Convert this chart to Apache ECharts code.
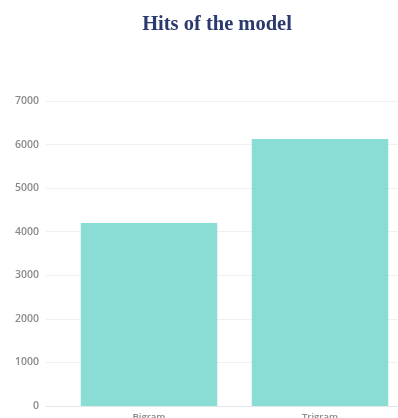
<!DOCTYPE html>
<html>
<head>
<meta charset="utf-8">
<script src="https://cdn.jsdelivr.net/npm/echarts@6/dist/echarts.min.js"></script>
<style>
html,body{margin:0;padding:0;background:#fff;}
#chart{width:398px;height:418px;}
</style>
</head>
<body>
<div id="chart"></div>
<script>
const categories = ['Bigram', 'Trigram'];
const hits = [4200, 6130];
const yTicks = [0, 1000, 2000, 3000, 4000, 5000, 6000, 7000];

const chart = echarts.init(document.getElementById('chart'));
const yMin = yTicks[0], yMax = yTicks[yTicks.length - 1], yStep = yTicks[1] - yTicks[0];
chart.setOption({
  animation: false,
  backgroundColor: '#ffffff',
  title: {
    text: 'Hits of the model',
    left: 212,
    top: 9,
    textAlign: 'center',
    textStyle: {
      fontFamily: 'Liberation Serif',
      fontWeight: 'bold',
      fontSize: 20.5,
      color: '#2a3a6e'
    }
  },
  grid: [
    { left: 46, right: 0, top: 101, height: 305, outerBoundsMode: 'none' },
    { left: 63.5, right: -7.5, top: 101, height: 305, outerBoundsMode: 'none' }
  ],
  xAxis: [
    {
      gridIndex: 0, type: 'value', min: 0, max: 1,
      axisLine: { show: true, lineStyle: { color: '#e3e6ea', width: 1 } },
      axisTick: { show: false }, axisLabel: { show: false }, splitLine: { show: false }
    },
    {
      gridIndex: 1, type: 'category', data: categories,
      axisLine: { show: false }, axisTick: { show: false },
      axisLabel: { margin: 6, fontFamily: 'Open Sans', fontSize: 9.5, fontWeight: 600, color: '#8a8a8a' }
    }
  ],
  yAxis: [
    {
      gridIndex: 0, type: 'value', min: yMin, max: yMax, interval: yStep,
      axisLine: { show: false }, axisTick: { show: false },
      axisLabel: {
        margin: 7, fontFamily: 'Open Sans', fontSize: 10.5, fontWeight: 600, color: '#8a8a8a',
        formatter: function (v) { return String(v); }
      },
      splitLine: { show: true, lineStyle: { color: '#f0f0f0', width: 1 } }
    },
    {
      gridIndex: 1, type: 'value', min: yMin, max: yMax, interval: yStep, show: false
    }
  ],
  series: [
    {
      type: 'bar',
      xAxisIndex: 1, yAxisIndex: 1,
      data: hits,
      barWidth: 136.5,
      itemStyle: { color: '#89ddd4' }
    }
  ]
});
</script>
</body>
</html>
